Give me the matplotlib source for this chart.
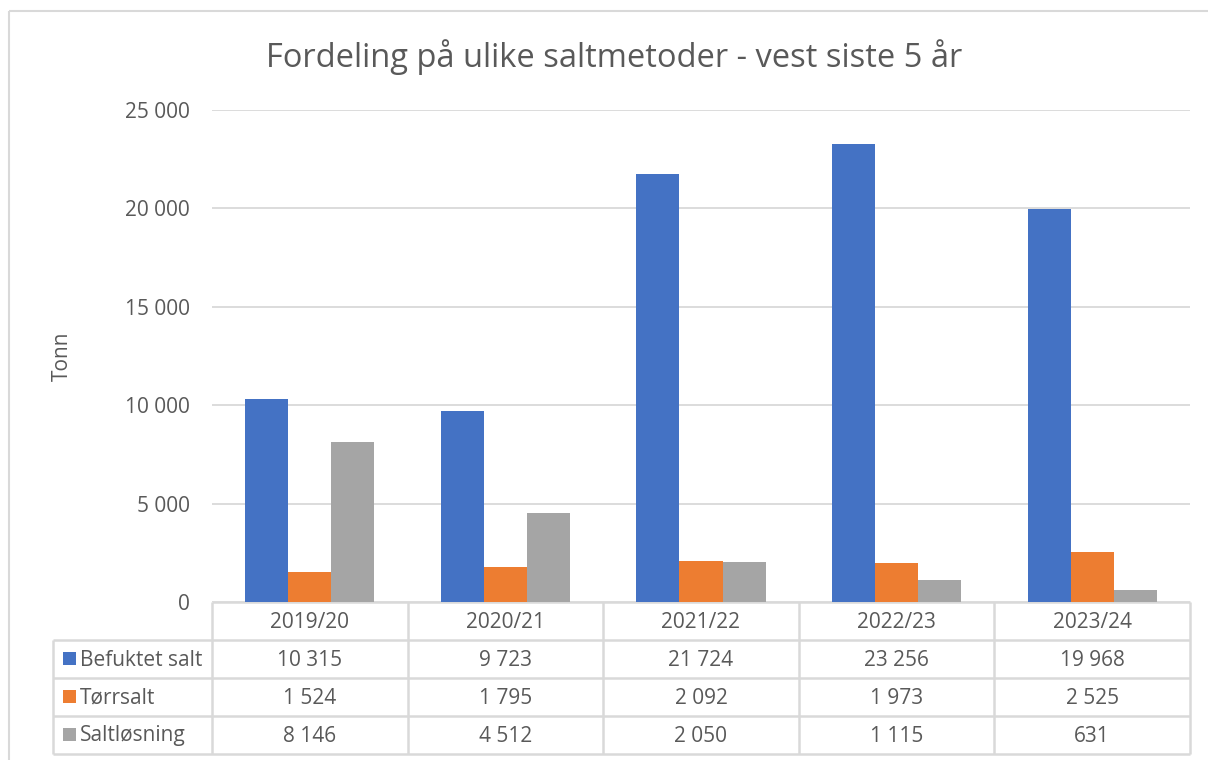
import matplotlib

matplotlib.use("Agg")
import matplotlib.pyplot as plt
from matplotlib.patches import Rectangle
from matplotlib.ticker import FuncFormatter, MultipleLocator

seasons = ["2019/20", "2020/21", "2021/22", "2022/23", "2023/24"]
series_names = ["Befuktet salt", "Tørrsalt", "Saltløsning"]
befuktet = [10315, 9723, 21724, 23256, 19968]
torrsalt = [1524, 1795, 2092, 1973, 2525]
saltlosning = [8146, 4512, 2050, 1115, 631]
colors = ["#4472C4", "#ED7D31", "#A5A5A5"]

TEXT = "#595959"
GRID = "#D9D9D9"
W, H = 1208, 760
FS = 15


def fmt(v):
    return f"{int(v):,}".replace(",", " ")


plt.rcParams["font.family"] = ["Open Sans", "DejaVu Sans"]

fig = plt.figure(figsize=(W / 100, H / 100), dpi=100)

# pixel layout of the plot area
left, right, top, bottom = 212, 1190, 110, 602
ax = fig.add_axes([left / W, 1 - bottom / H, (right - left) / W, (bottom - top) / H])

series = [befuktet, torrsalt, saltlosning]
bw = 0.22
for k, (vals, col) in enumerate(zip(series, colors)):
    xs = [i + (k - 1) * bw for i in range(len(seasons))]
    ax.bar(xs, vals, width=bw, color=col, zorder=3)

ax.set_xlim(-0.5, len(seasons) - 0.5)
ax.set_ylim(0, 25000)
ax.yaxis.set_major_locator(MultipleLocator(5000))
ax.yaxis.set_major_formatter(FuncFormatter(lambda v, p: fmt(v)))
ax.grid(axis="y", color=GRID, linewidth=1.3, zorder=0)
ax.set_xticks([])
ax.tick_params(axis="y", length=0, pad=16, labelsize=FS, labelcolor=TEXT)
for s in ax.spines.values():
    s.set_visible(False)

# overlay in pixel coords for table, frame and title
ov = fig.add_axes([0, 0, 1, 1], zorder=-1)
ov.set_xlim(0, W)
ov.set_ylim(H, 0)
ov.axis("off")
ov.add_patch(Rectangle((9, 11), W, H, fill=False, edgecolor=GRID, linewidth=1.5))

ov.text(614, 57, "Fordeling på ulike saltmetoder - vest siste 5 år",
        ha="center", va="center", fontsize=23.5, color=TEXT)
ov.text(62, 356, "Tonn", ha="center", va="center", rotation=90,
        fontsize=FS, color=TEXT)

row_h = 38
label_left = 53
n = len(seasons)
cw = (right - left) / n
lc = dict(color=GRID, linewidth=1.8, solid_capstyle="butt")
table_bottom = bottom + row_h * (len(series) + 1)

# horizontal lines
ov.plot([left, right], [bottom, bottom], **lc)
for r in range(1, len(series) + 2):
    y = bottom + r * row_h
    ov.plot([label_left, right], [y, y], **lc)
# vertical lines
ov.plot([label_left, label_left], [bottom + row_h, table_bottom], **lc)
for c in range(n + 1):
    x = left + c * cw
    ov.plot([x, x], [bottom, table_bottom], **lc)

for c, s in enumerate(seasons):
    ov.text(left + (c + 0.5) * cw, bottom + row_h / 2 + 1, s,
            ha="center", va="center", fontsize=FS, color=TEXT)

for r, (name, vals, col) in enumerate(zip(series_names, series, colors)):
    yc = bottom + (r + 1.5) * row_h
    ov.add_patch(Rectangle((63, yc - 7), 13, 13, color=col, linewidth=0))
    ov.text(80, yc + 1, name, ha="left", va="center", fontsize=FS, color=TEXT)
    for c, v in enumerate(vals):
        ov.text(left + (c + 0.5) * cw, yc + 1, fmt(v),
                ha="center", va="center", fontsize=FS, color=TEXT)

fig.savefig("out.png", dpi=100, facecolor="white")
plt.close(fig)
